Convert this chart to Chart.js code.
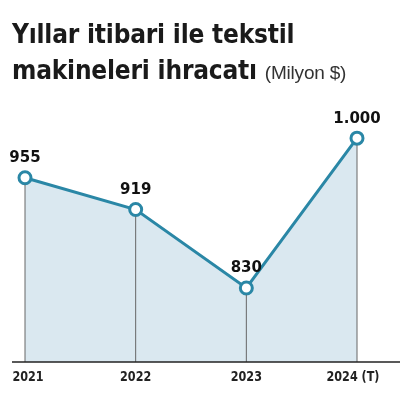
<!DOCTYPE html>
<html><head><meta charset="utf-8">
<script src="https://cdn.jsdelivr.net/npm/chart.js@4/dist/chart.umd.min.js"></script>
<style>
html,body{margin:0;padding:0;background:#fff;}
#wrap{position:relative;width:411px;height:409px;}
#title{position:absolute;left:12px;top:16px;font-family:"DejaVu Sans";font-stretch:condensed;font-weight:bold;font-size:26px;line-height:36px;color:#1a1a1a;z-index:2;letter-spacing:-0.2px}
#title span{font-weight:normal;font-size:19px;color:#333;font-family:"Liberation Sans"}
canvas{position:absolute;left:0;top:0}
</style></head><body>
<div id="wrap">
<div id="title">Yıllar itibari ile tekstil<br>makineleri ihracatı <span>(Milyon $)</span></div>
<canvas id="c" width="411" height="409"></canvas>
</div>
<script>
const categories=["2021","2022","2023","2024 (T)"];
const values=[955,919,830,1000];
const valueLabels=["955","919","830","1.000"];
const deco={id:'deco',afterDatasetsDraw(chart){
  const ctx=chart.ctx,y=chart.scales.y,meta=chart.getDatasetMeta(0);
  const base=y.getPixelForValue(y.min);
  ctx.save();
  ctx.strokeStyle='#666';ctx.lineWidth=1;
  meta.data.forEach(p=>{ctx.beginPath();ctx.moveTo(p.x,p.y+7);ctx.lineTo(p.x,base);ctx.stroke();});
  ctx.strokeStyle='#222';ctx.lineWidth=1.5;
  ctx.beginPath();ctx.moveTo(12,base);ctx.lineTo(400,base);ctx.stroke();
  ctx.fillStyle='#111';ctx.font='bold 15px "DejaVu Sans"';ctx.textAlign='center';ctx.textBaseline='bottom';
  meta.data.forEach((p,i)=>{let x=p.x; if(i==0)x=Math.max(x,22); ctx.fillText(valueLabels[i],x,p.y-12);});
  ctx.font='bold 14px "DejaVu Sans"';ctx.textBaseline='top';ctx.fillStyle='#222';
  ctx.save();ctx.scale(0.8,1);
  meta.data.forEach((p,i)=>{let x=p.x;if(i==0)x=28; if(i==3)x=353; ctx.fillText(categories[i],x/0.8,base+8);});
  ctx.restore();
  ctx.restore();}};
new Chart(document.getElementById('c'),{type:'line',
data:{labels:categories,datasets:[{data:values,borderColor:'#2a87a6',borderWidth:3,fill:'start',backgroundColor:'#dae8f0',
pointRadius:6,pointBackgroundColor:'#fff',pointBorderColor:'#2a87a6',pointBorderWidth:3,tension:0}]},
options:{responsive:false,animation:false,layout:{padding:{left:25,right:54,top:50,bottom:47}},
plugins:{legend:{display:false},tooltip:{enabled:false}},
scales:{x:{display:false,offset:false},y:{display:false,min:746,max:1100}}},
plugins:[deco]});
</script></body></html>
